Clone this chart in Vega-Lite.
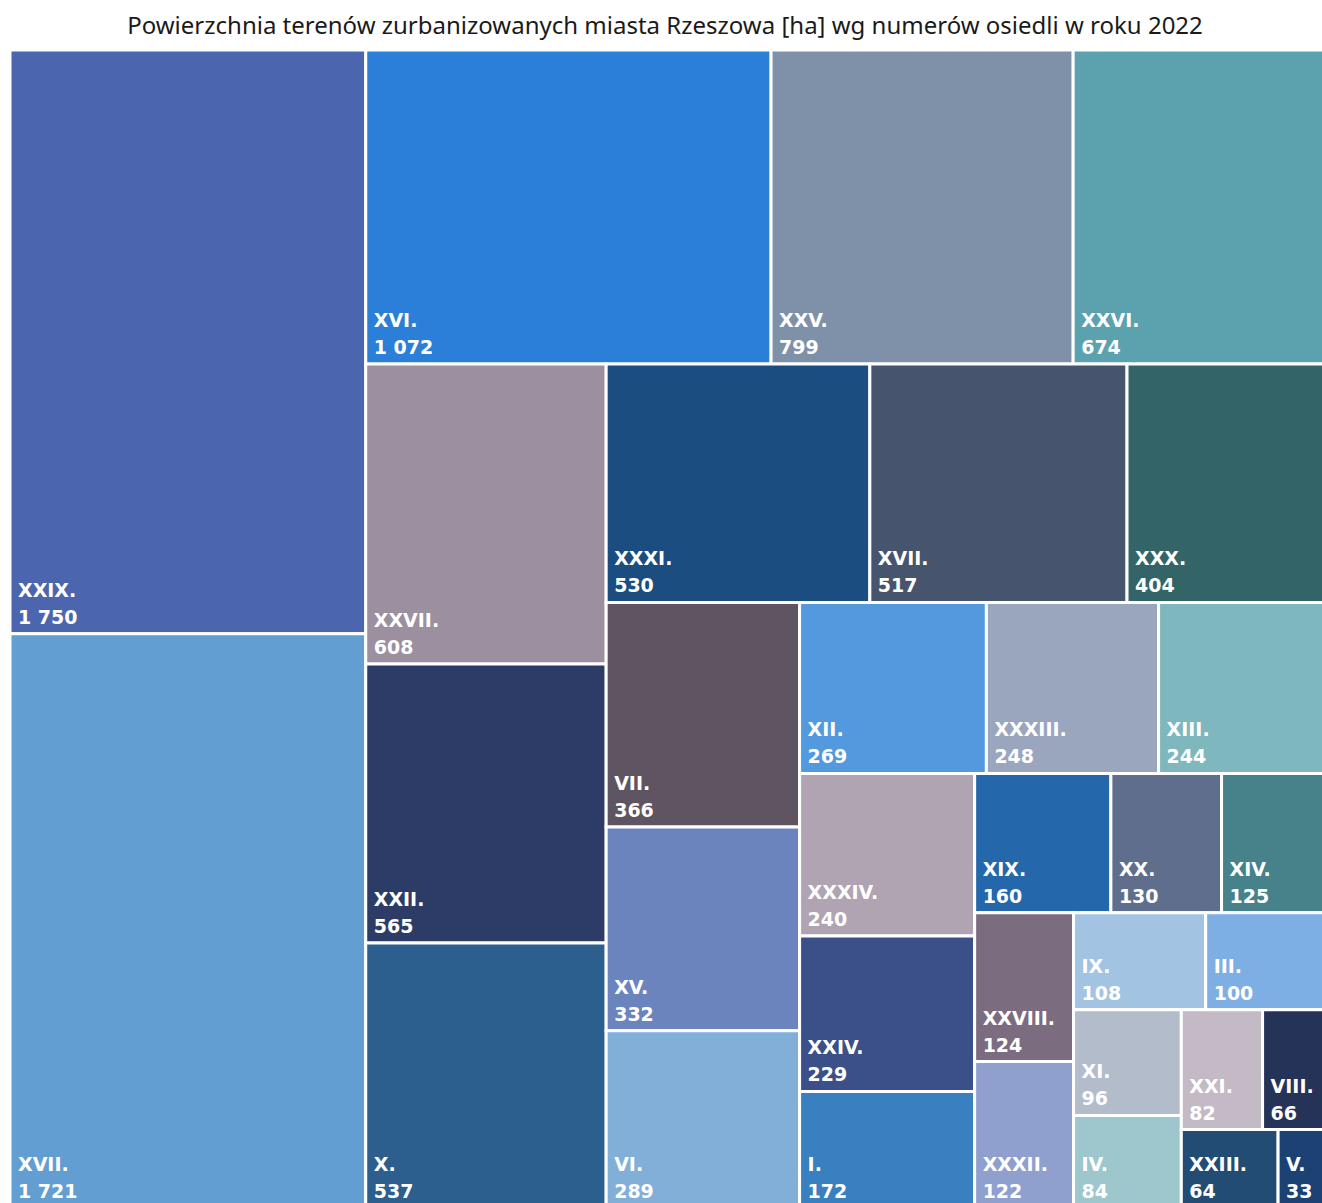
{
  "$schema": "https://vega.github.io/schema/vega-lite/v6.json",
  "width": 1318,
  "height": 1158,
  "autosize": {"type": "none"},
  "padding": {"left": 10, "top": 50, "right": 0, "bottom": 0},
  "background": "white",
  "title": {
    "text": "Powierzchnia terenów zurbanizowanych miasta Rzeszowa [ha] wg numerów osiedli w roku 2022",
    "anchor": "middle",
    "frame": "group",
    "font": "Noto Sans",
    "fontSize": 24,
    "fontWeight": "normal",
    "color": "#1a1a1a",
    "offset": 10,
    "dx": -4
  },
  "data": {
    "values": [
      {"name": "XXIX", "value": 1750, "strip": 1, "dir": "col"},
      {"name": "XVII", "value": 1721, "strip": 1, "dir": "col"},
      {"name": "XVI", "value": 1072, "strip": 2, "dir": "row"},
      {"name": "XXV", "value": 799, "strip": 2, "dir": "row"},
      {"name": "XXVI", "value": 674, "strip": 2, "dir": "row"},
      {"name": "XXVII", "value": 608, "strip": 3, "dir": "col"},
      {"name": "XXII", "value": 565, "strip": 3, "dir": "col"},
      {"name": "X", "value": 537, "strip": 3, "dir": "col"},
      {"name": "XXXI", "value": 530, "strip": 4, "dir": "row"},
      {"name": "XVII", "value": 517, "strip": 4, "dir": "row"},
      {"name": "XXX", "value": 404, "strip": 4, "dir": "row"},
      {"name": "VII", "value": 366, "strip": 5, "dir": "col"},
      {"name": "XV", "value": 332, "strip": 5, "dir": "col"},
      {"name": "VI", "value": 289, "strip": 5, "dir": "col"},
      {"name": "XII", "value": 269, "strip": 6, "dir": "row"},
      {"name": "XXXIII", "value": 248, "strip": 6, "dir": "row"},
      {"name": "XIII", "value": 244, "strip": 6, "dir": "row"},
      {"name": "XXXIV", "value": 240, "strip": 7, "dir": "col"},
      {"name": "XXIV", "value": 229, "strip": 7, "dir": "col"},
      {"name": "I", "value": 172, "strip": 7, "dir": "col"},
      {"name": "XIX", "value": 160, "strip": 8, "dir": "row"},
      {"name": "XX", "value": 130, "strip": 8, "dir": "row"},
      {"name": "XIV", "value": 125, "strip": 8, "dir": "row"},
      {"name": "XXVIII", "value": 124, "strip": 9, "dir": "col"},
      {"name": "XXXII", "value": 122, "strip": 9, "dir": "col"},
      {"name": "IX", "value": 108, "strip": 10, "dir": "row"},
      {"name": "III", "value": 100, "strip": 10, "dir": "row"},
      {"name": "XI", "value": 96, "strip": 11, "dir": "col"},
      {"name": "IV", "value": 84, "strip": 11, "dir": "col"},
      {"name": "XXI", "value": 82, "strip": 12, "dir": "row"},
      {"name": "VIII", "value": 66, "strip": 12, "dir": "row"},
      {"name": "XXIII", "value": 64, "strip": 13, "dir": "row"},
      {"name": "V", "value": 33, "strip": 13, "dir": "row"}
    ]
  },
  "transform": [
    {"joinaggregate": [{"op": "sum", "field": "value", "as": "T"}]},
    {"joinaggregate": [{"op": "sum", "field": "value", "as": "S"}], "groupby": ["strip"]},
    {"window": [{"op": "sum", "field": "value", "as": "cum"}], "sort": [{"field": "strip", "order": "ascending"}], "frame": [null, 0], "ignorePeers": false},
    {"window": [{"op": "row_number", "as": "i"}, {"op": "sum", "field": "value", "as": "cv"}], "groupby": ["strip"], "sort": [{"field": "value", "order": "descending"}], "frame": [null, 0]},
    {"calculate": "(datum.T - datum.cum) / (datum.T - datum.cum + datum.S)", "as": "f"},
    {"calculate": "log(max(datum.T - datum.cum, 1e-6) / (datum.T - datum.cum + datum.S))", "as": "lr"},
    {"calculate": "datum.dir === 'col' && datum.i === 1 ? datum.lr : 0", "as": "lc"},
    {"calculate": "datum.dir === 'row' && datum.i === 1 ? datum.lr : 0", "as": "lw"},
    {"window": [{"op": "sum", "field": "lc", "as": "Cc"}, {"op": "sum", "field": "lw", "as": "Cw"}], "sort": [{"field": "strip", "order": "ascending"}], "frame": [null, 0], "ignorePeers": false},
    {"calculate": "exp(datum.Cc - (datum.dir === 'col' ? datum.lr : 0))", "as": "W"},
    {"calculate": "exp(datum.Cw - (datum.dir === 'row' ? datum.lr : 0))", "as": "H"},
    {"calculate": "datum.dir === 'col' ? 1 - datum.W : 1 - datum.W + datum.W * (datum.cv - datum.value) / datum.S", "as": "x0"},
    {"calculate": "datum.dir === 'col' ? 1 - datum.W * datum.f : 1 - datum.W + datum.W * datum.cv / datum.S", "as": "x1"},
    {"calculate": "datum.dir === 'row' ? 1 - datum.H : 1 - datum.H + datum.H * (datum.cv - datum.value) / datum.S", "as": "y0"},
    {"calculate": "datum.dir === 'row' ? 1 - datum.H * datum.f : 1 - datum.H + datum.H * datum.cv / datum.S", "as": "y1"},
    {"calculate": "datum.name + '|' + datum.value", "as": "key"},
    {"calculate": "datum.name + '.'", "as": "nm"},
    {"calculate": "replace(format(datum.value, ','), ',', ' ')", "as": "lab"}
  ],
  "encoding": {
    "x": {"field": "x0", "type": "quantitative", "scale": {"domain": [0, 1], "nice": false, "zero": false}, "axis": null},
    "y": {"field": "y1", "type": "quantitative", "scale": {"domain": [0, 1], "nice": false, "zero": false, "reverse": true}, "axis": null}
  },
  "layer": [
    {
      "mark": {"type": "rect", "stroke": "white", "strokeWidth": 3},
      "encoding": {
        "x": {"field": "x0", "type": "quantitative"},
        "x2": {"field": "x1"},
        "y": {"field": "y0", "type": "quantitative"},
        "y2": {"field": "y1"},
        "color": {
          "field": "key",
          "type": "nominal",
          "legend": null,
          "scale": {
            "domain": ["XXIX|1750", "XVII|1721", "XVI|1072", "XXV|799", "XXVI|674", "XXVII|608", "XXII|565", "X|537", "XXXI|530", "XVII|517", "XXX|404", "VII|366", "XV|332", "VI|289", "XII|269", "XXXIII|248", "XIII|244", "XXXIV|240", "XXIV|229", "I|172", "XIX|160", "XX|130", "XIV|125", "XXVIII|124", "XXXII|122", "IX|108", "III|100", "XI|96", "IV|84", "XXI|82", "VIII|66", "XXIII|64", "V|33"],
            "range": ["#4B66AE", "#629ED2", "#2B7FD8", "#7F90A9", "#5BA2AE", "#9C8FA0", "#2D3C66", "#2C5F8D", "#1B4D80", "#46556D", "#336468", "#5F5462", "#6C84BE", "#82AFD8", "#5399DE", "#9AA6BD", "#7EB7BD", "#B0A4B2", "#3B5089", "#3980C0", "#2467AA", "#5E6E8C", "#47818A", "#7B6C80", "#8FA0CF", "#A2C4E2", "#7DAEE4", "#B3BCCA", "#9DC6CD", "#C4BAC6", "#263358", "#234C74", "#1B4272"]
          }
        }
      }
    },
    {
      "mark": {"type": "text", "align": "left", "baseline": "alphabetic", "dx": 8, "dy": -37, "font": "DejaVu Sans", "fontWeight": "bold", "fontSize": 19, "color": "white"},
      "encoding": {"text": {"field": "nm"}}
    },
    {
      "mark": {"type": "text", "align": "left", "baseline": "alphabetic", "dx": 8, "dy": -10, "font": "DejaVu Sans", "fontWeight": "bold", "fontSize": 19, "color": "white"},
      "encoding": {"text": {"field": "lab"}}
    }
  ],
  "config": {"view": {"stroke": null}}
}
